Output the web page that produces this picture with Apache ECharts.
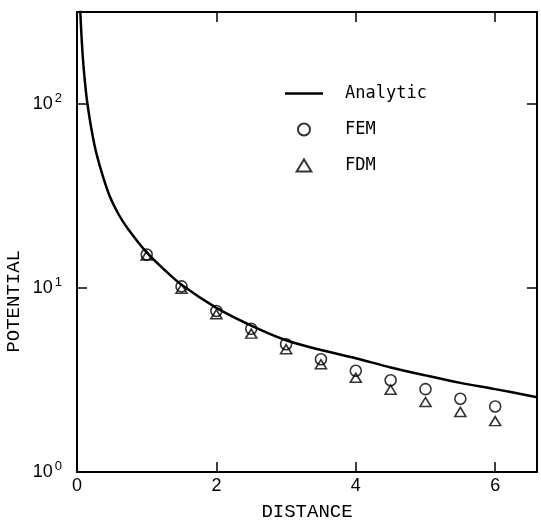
<!DOCTYPE html>
<html>
<head>
    <meta charset="utf-8" />
    <title>POTENTIAL vs DISTANCE</title>
    <script src="https://cdn.jsdelivr.net/npm/echarts@6/dist/echarts.min.js"></script>
    <style>
        html, body { margin: 0; padding: 0; background: #fff; }
        #container { width: 541px; height: 526px; }
    </style>
</head>
<body>
    <div id="container"></div>
    <script>
    // 解析解曲线（从图上读取的点）
    var analyticX = [0.045, 0.07, 0.1, 0.15, 0.25, 0.35, 0.47, 0.6, 0.73, 1.0, 1.25, 1.5, 2.0, 2.5, 3.0, 3.5, 4.0, 4.5, 5.0, 5.5, 6.0, 6.6];
    var analyticY = [330, 215, 150, 100, 60, 43, 31.5, 25, 21, 15.6, 12.6, 10.4, 7.8, 6.25, 5.2, 4.6, 4.15, 3.7, 3.35, 3.05, 2.82, 2.55];
    // 数值解
    var pointX = [1, 1.5, 2, 2.5, 3, 3.5, 4, 4.5, 5, 5.5, 6];
    var femY = [15.2, 10.2, 7.5, 6.0, 4.95, 4.1, 3.55, 3.15, 2.82, 2.5, 2.27];
    var fdmY = [15.0, 9.9, 7.2, 5.65, 4.65, 3.85, 3.25, 2.8, 2.4, 2.12, 1.89];
    var xTicks = [0, 2, 4, 6];
    var yTicks = [1, 10, 100];

    function pairs(xs, ys) {
        var out = [];
        for (var i = 0; i < xs.length; i++) out.push([xs[i], ys[i]]);
        return out;
    }
    function axisLine() {
        return { show: true, onZero: false, lineStyle: { color: '#000', width: 2 } };
    }
    function tick() {
        return { show: true, inside: true, length: 10, lineStyle: { color: '#000', width: 1.5 } };
    }

    var dom = document.getElementById('container');
    var myChart = echarts.init(dom);

    var option = {
        backgroundColor: '#fff',
        animation: false,
        grid: { left: 77, right: 4, top: 12, bottom: 48 },
        legend: {
            left: 280, top: 80,
            orient: 'vertical',
            itemWidth: 38, itemHeight: 12, itemGap: 19,
            symbolKeepAspect: true,
            textStyle: { fontFamily: 'DejaVu Sans Mono', fontSize: 17, color: '#000', padding: [0, 0, 0, 17] },
            data: [
                { name: 'Analytic', icon: 'path://M0,0 L38,0 L38,2.6 L0,2.6 Z', itemStyle: { color: '#000' } },
                { name: 'FEM', icon: 'circle' },
                { name: 'FDM', icon: 'path://M0,9 L5.5,0 L11,9 Z' }
            ]
        },
        graphic: [{
            type: 'text',
            left: 4, top: 250,
            rotation: Math.PI / 2,
            style: { text: 'POTENTIAL', font: '19px "Liberation Mono"', fill: '#000' }
        }],
        xAxis: [{
            type: 'value', min: 0, max: 6.6, interval: 2,
            name: 'DISTANCE', nameLocation: 'middle', nameGap: 30,
            nameTextStyle: { fontFamily: 'Liberation Mono', fontSize: 19, color: '#000' },
            axisLine: axisLine(), axisTick: tick(), splitLine: { show: false },
            axisLabel: {
                margin: 5, color: '#000', fontFamily: 'Liberation Sans', fontSize: 18,
                formatter: function (v) { return xTicks.indexOf(v) >= 0 ? String(v) : ''; }
            }
        }, {
            type: 'value', position: 'top', min: 0, max: 6.6, interval: 2,
            axisLine: axisLine(), axisTick: tick(), splitLine: { show: false }, axisLabel: { show: false }
        }],
        yAxis: [{
            type: 'log', logBase: 10, min: 1, max: 316,
            axisLine: axisLine(), axisTick: tick(), splitLine: { show: false },
            minorTick: { show: false },
            axisLabel: {
                margin: 15, color: '#000',
                formatter: function (v) {
                    var e = Math.round(Math.log(v) / Math.LN10);
                    if (yTicks.indexOf(Math.pow(10, e)) < 0 || Math.abs(Math.pow(10, e) - v) > 1e-6) return '';
                    return '{b|10}{s|' + e + '}';
                },
                rich: {
                    b: { fontFamily: 'Liberation Sans', fontSize: 18, lineHeight: 24, color: '#000' },
                    s: { fontFamily: 'Liberation Sans', fontSize: 13, lineHeight: 13, verticalAlign: 'top', color: '#000', padding: [0, 0, 0, 2] }
                }
            }
        }, {
            type: 'log', logBase: 10, min: 1, max: 316, position: 'right',
            axisLine: axisLine(), axisTick: tick(), splitLine: { show: false }, axisLabel: { show: false }
        }],
        series: [{
            name: 'Analytic',
            type: 'line',
            smooth: 0.3,
            symbol: 'none',
            clip: true,
            lineStyle: { color: '#000', width: 2.5 },
            itemStyle: { color: '#000' },
            data: pairs(analyticX, analyticY)
        }, {
            name: 'FEM',
            type: 'scatter',
            symbol: 'circle',
            symbolSize: 11,
            itemStyle: { color: 'rgba(255,255,255,0)', borderColor: '#000', borderWidth: 1.6 },
            data: pairs(pointX, femY)
        }, {
            name: 'FDM',
            type: 'scatter',
            symbol: 'triangle',
            symbolSize: [11, 9],
            itemStyle: { color: 'rgba(255,255,255,0)', borderColor: '#000', borderWidth: 1.6 },
            data: pairs(pointX, fdmY)
        }]
    };
    myChart.setOption(option, true);
    </script>
</body>
</html>
